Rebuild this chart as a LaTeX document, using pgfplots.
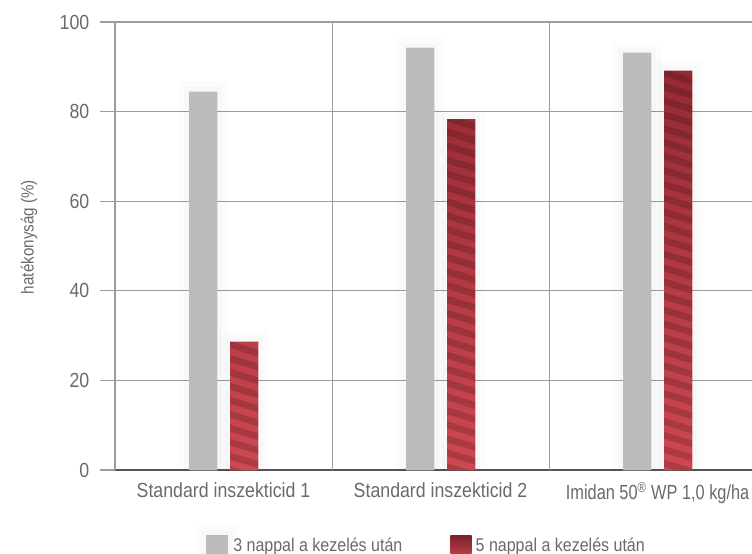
\documentclass[border=0pt]{standalone}
\usepackage{fontspec}
\setmainfont{Liberation Sans}[FakeStretch=0.87]
\usepackage{graphicx}
\usepackage{pgfplots}
\pgfplotsset{compat=1.18}
\usetikzlibrary{patterns.meta}
\definecolor{txt}{HTML}{6A6A6A}
\definecolor{gridc}{HTML}{9C9C9C}
\definecolor{axc}{HTML}{555555}
\definecolor{barg}{HTML}{BBBBBB}
\definecolor{redtop}{HTML}{952A34}
\definecolor{redbot}{HTML}{CE4852}
\definecolor{legtop}{HTML}{7A2129}
\definecolor{legbot}{HTML}{C2404A}
\begin{document}
\begin{tikzpicture}
\path[use as bounding box] (0pt,0pt) rectangle (564pt,-414.75pt);
\begin{axis}[
  at={(86.25pt,-352.5pt)}, anchor=south west,
  scale only axis, width=477.75pt, height=336pt,
  xmin=-0.5, xmax=2.435, ymin=0, ymax=100,
  ybar, bar width=21pt,
  axis lines*=left,
  axis line style={-},
  x axis line style={draw=axc, line width=1.5pt},
  y axis line style={draw=gridc, line width=0.8pt},
  xtick={0,1,2},
  xticklabels={Standard inszekticid 1, Standard inszekticid 2, {\scalebox{0.92}[1]{Imidan 50\textsuperscript{\textregistered} WP 1,0 kg/ha}}},
  x tick style={draw=none},
  major x tick style={draw=none},
  extra x ticks={0.5,1.5},
  extra x tick labels={},
  extra x tick style={grid=major, major tick length=0pt, major grid style={draw=gridc, line width=0.8pt}},
  ytick={0,20,40,60,80,100},
  ymajorgrids,
  major grid style={draw=gridc, line width=0.8pt},
  y tick style={draw=gridc, line width=0.8pt},
  tick align=outside,
  major tick length=11.25pt,
  /pgf/number format/assume math mode=true,
  tick label style={font=\fontsize{15.3}{17}\selectfont, text=txt},
  yticklabel style={xshift=-4.5pt},
  xticklabel style={yshift=5.5pt},
  ylabel={hatékonyság (\%)},
  ylabel style={at={(axis description cs:-0.135,0.52)}, anchor=center, font=\fontsize{13.1}{15}\selectfont, text=txt},
  legend columns=2,
  legend style={at={(axis description cs:0.126,-0.169)}, anchor=west, draw=none, fill=none, inner sep=0pt,
    font=\fontsize{13.8}{15}\selectfont, text=txt,
    nodes={inner xsep=0pt},
    /tikz/every even column/.append style={column sep=36pt}},
  legend image code/.code={\path[#1] (0pt,-8pt) rectangle (16pt,8pt);},
]
\addplot[fill=barg, draw=none, bar shift=-15.375pt,
  preaction={draw=black, draw opacity=0.012, line width=16pt},
  preaction={draw=black, draw opacity=0.015, line width=8pt}]
  coordinates {(0,84.4) (1,94.2) (2,93.1)};
\addlegendentry{\hspace{-3.7pt}3 nappal a kezelés után}
\addplot[draw=none, bar shift=15.375pt,
  preaction={draw=black, draw opacity=0.012, line width=16pt},
  preaction={draw=black, draw opacity=0.015, line width=8pt},
  top color=redtop, bottom color=redbot,
  forget plot]
  coordinates {(0,28.6) (1,78.3) (2,89.1)};
\addplot[draw=none, fill=none, bar shift=15.375pt, opacity=0.16,
  pattern={Lines[angle=-17,distance=10pt,line width=5pt]}, pattern color=black,
  forget plot]
  coordinates {(0,28.6) (1,78.3) (2,89.1)};
\addlegendimage{top color=legtop, bottom color=legbot, draw=none}
\addlegendentry{\hspace{3pt}5 nappal a kezelés után}
\end{axis}
\end{tikzpicture}
\end{document}
